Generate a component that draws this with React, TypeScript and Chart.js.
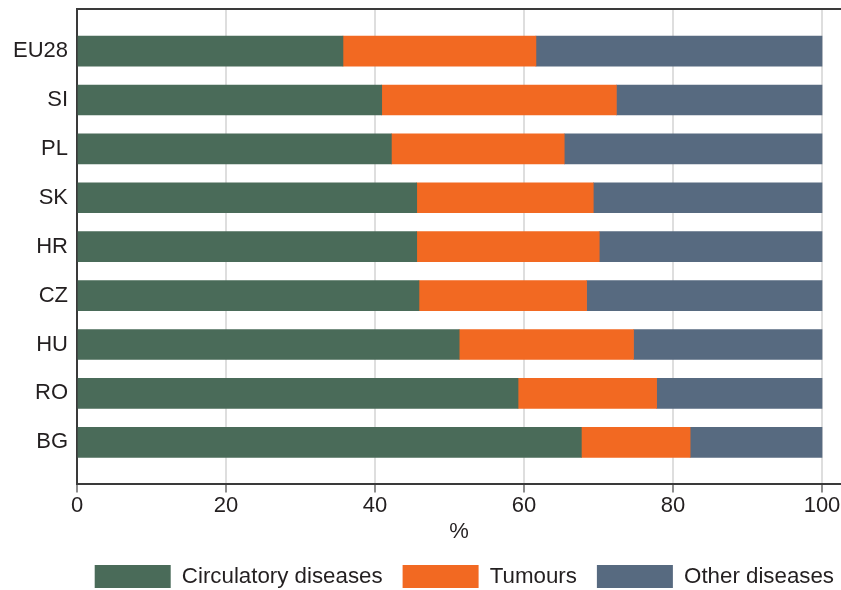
import React, { useEffect, useRef } from "react";
import { Chart, registerables } from "chart.js";

Chart.register(...registerables);

const categories = ["EU28", "SI", "PL", "SK", "HR", "CZ", "HU", "RO", "BG"];
const circulatory = [35.7, 40.9, 42.2, 45.6, 45.6, 45.9, 51.3, 59.2, 67.7];
const tumours = [25.9, 31.5, 23.2, 23.7, 24.5, 22.5, 23.4, 18.6, 14.6];
const other = [38.4, 27.6, 34.6, 30.7, 29.9, 31.6, 25.3, 22.2, 17.7];
const seriesNames = ["Circulatory diseases", "Tumours", "Other diseases"];
const seriesColors = ["#4A6B59", "#F26922", "#576A80"];
const xTicks = [0, 20, 40, 60, 80, 100];
const xTitle = "%";

const FONT = "'Liberation Sans', Arial, Helvetica, sans-serif";
const TEXT = "#231f20";

const topLine = {
  id: "topLine",
  afterDraw(chart: any) {
    const { ctx, chartArea } = chart;
    ctx.save();
    ctx.strokeStyle = "#3a3a3a";
    ctx.lineWidth = 2;
    ctx.beginPath();
    ctx.moveTo(chartArea.left - 1, chartArea.top);
    ctx.lineTo(chartArea.right, chartArea.top);
    ctx.stroke();
    ctx.restore();
  },
};

export default function App() {
  const ref = useRef<HTMLCanvasElement | null>(null);

  useEffect(() => {
    if (!ref.current) return;
    const toPoints = (arr: number[]) => arr.map((v, i) => ({ x: v, y: i }));
    const all = [circulatory, tumours, other];
    const chart = new Chart(ref.current, {
      type: "bar",
      data: {
        datasets: all.map((arr, k) => ({
          label: seriesNames[k],
          data: toPoints(arr),
          backgroundColor: seriesColors[k],
          borderWidth: 0,
          barThickness: 30,
        })),
      },
      plugins: [topLine],
      options: {
        indexAxis: "y",
        animation: false,
        responsive: false,
        layout: { padding: { top: 9, bottom: -8, left: 0, right: -13 } },
        font: { family: FONT },
        scales: {
          x: {
            type: "linear",
            stacked: true,
            min: 0,
            max: 102.55,
            offset: false,
            ticks: {
              stepSize: 20,
              padding: 1,
              color: TEXT,
              font: { family: FONT, size: 22, lineHeight: 1.1 },
            },
            afterBuildTicks: (s: any) => {
              s.ticks = xTicks.map((v) => ({ value: v }));
            },
            afterFit: (s: any) => {
              s.paddingRight = 0;
            },
            grid: {
              color: "#dedede",
              lineWidth: 2,
              drawTicks: true,
              tickLength: 8,
              tickColor: "#444",
              tickWidth: 1.2,
            },
            border: { display: true, color: "#3a3a3a", width: 2 },
            title: {
              display: true,
              text: xTitle,
              color: TEXT,
              font: { family: FONT, size: 22 },
              padding: { top: 0, bottom: 0 },
            },
          },
          y: {
            type: "linear",
            stacked: true,
            reverse: true,
            offset: false,
            min: -0.86,
            max: categories.length - 1 + 0.86,
            afterBuildTicks: (s: any) => {
              s.ticks = categories.map((_, i) => ({ value: i }));
            },
            afterFit: (s: any) => {
              s.width = 77;
              s.paddingTop = 0;
              s.paddingBottom = 0;
            },
            ticks: {
              padding: 9,
              color: TEXT,
              font: { family: FONT, size: 22 },
              callback: (v: any) => categories[Math.round(Number(v))] ?? "",
            },
            grid: { display: true, offset: false, color: "rgba(0,0,0,0)", drawTicks: false },
            border: { display: true, color: "#3a3a3a", width: 2 },
          },
        },
        plugins: {
          legend: {
            position: "bottom",
            fullSize: true,
            align: "end",
            labels: {
              boxWidth: 76,
              boxHeight: 23,
              padding: 20,
              color: TEXT,
              font: { family: FONT, size: 22.3 },
            },
          },
          tooltip: { enabled: false },
        },
      } as any,
    });
    return () => chart.destroy();
  }, []);

  return (
    <div style={{ position: "fixed", left: 0, top: 0, width: 841, height: 590, background: "#fff", overflow: "hidden" }}>
      <canvas ref={ref} width={841} height={590} style={{ display: "block" }} />
    </div>
  );
}
